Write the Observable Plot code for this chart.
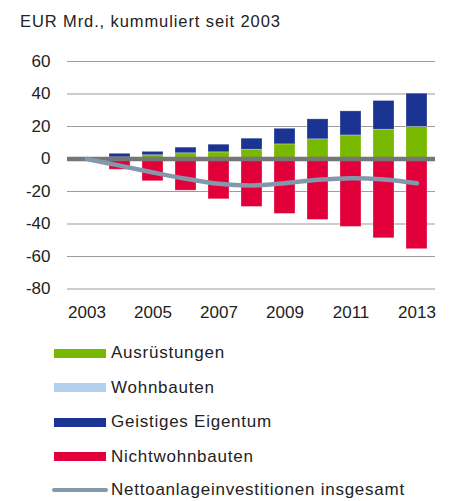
<!DOCTYPE html>
<html>
<head>
<meta charset="utf-8">
<script src="https://cdn.jsdelivr.net/npm/d3@7"></script>
<script src="https://cdn.jsdelivr.net/npm/@observablehq/plot@0.6"></script>
<style>
  html, body { margin: 0; padding: 0; background: #fff; }
  body { width: 451px; height: 501px; position: relative; overflow: hidden; font-family: "Liberation Sans", Arial, sans-serif; color: #222; }
  #title { position: absolute; left: 20px; top: 13px; font-size: 16.5px; letter-spacing: 0.9px; line-height: 1; white-space: nowrap; }
  #chart { position: absolute; left: 0; top: 30px; }
  .leg { position: absolute; left: 0; height: 34px; display: flex; align-items: center; white-space: nowrap; font-size: 17px; letter-spacing: 0.75px; }
  .sw { position: absolute; left: 54px; width: 52px; height: 9px; }
  .sw.line { left: 52px; width: 56px; height: 4px; border-radius: 2px; }
  .lt { position: absolute; left: 111px; }
</style>
</head>
<body>
<div id="title">EUR Mrd., kummuliert seit 2003</div>
<div id="chart"></div>
<div id="legend"></div>
<script>
const years = [2003, 2004, 2005, 2006, 2007, 2008, 2009, 2010, 2011, 2012, 2013];
const seriesNames = ["Ausrüstungen", "Wohnbauten", "Geistiges Eigentum", "Nichtwohnbauten"];
const lineName = "Nettoanlageinvestitionen insgesamt";
const ausruestungen = [0, 1.0, 2.3, 3.5, 4.1, 5.7, 9.0, 12.1, 14.5, 18.0, 19.7];
const wohnbauten = [0, 0, 0, 0, 0, 0, 0, 0, 0, 0, 0];
const geistigesEigentum = [0, 2.2, 2.1, 3.5, 4.7, 6.8, 9.6, 12.3, 14.8, 17.7, 20.5];
const nichtwohnbauten = [-1.0, -6.6, -13.7, -19.5, -24.8, -29.5, -33.8, -37.5, -41.8, -48.8, -55.5];
const insgesamt = [0, -4.1, -8.3, -12.2, -15.3, -16.3, -14.9, -12.8, -11.8, -12.6, -14.9];
const yTicks = [-80, -60, -40, -20, 0, 20, 40, 60];
const xTickLabels = [2003, 2005, 2007, 2009, 2011, 2013];

const colors = ["#78b800", "#b3d0ee", "#1b3494", "#e2003a"];
const lineColor = "#8498ab";

const seriesValues = [ausruestungen, wohnbauten, geistigesEigentum, nichtwohnbauten];
const barData = [];
seriesNames.forEach((s, i) => years.forEach((y, j) => barData.push({year: y, series: s, value: seriesValues[i][j]})));
const lineData = years.map((y, j) => ({year: y, value: insgesamt[j]}));

const plot = Plot.plot({
  width: 451,
  height: 300,
  marginTop: 31,
  marginBottom: 41.5,
  marginLeft: 67,
  marginRight: 16,
  style: {fontFamily: "'Liberation Sans', Arial, sans-serif", fontSize: "17px", color: "#222", background: "transparent"},
  x: {type: "band", domain: years, paddingInner: 0.37, paddingOuter: 0.185, align: 0.5, label: null},
  y: {domain: [-80, 60], label: null},
  color: {domain: seriesNames, range: colors},
  marks: [
    Plot.ruleY(yTicks, {stroke: "#9c9c9c", strokeWidth: 1.2}),
    Plot.barY(barData, {x: "year", y: "value", fill: "series", order: seriesNames, stroke: "#fff", strokeOpacity: 0.35, strokeWidth: 0.8}),
    Plot.ruleY([0], {stroke: "#767676", strokeWidth: 4.5}),
    Plot.line(lineData, {x: "year", y: "value", stroke: lineColor, strokeWidth: 4.5, curve: "catmull-rom", strokeLinecap: "round"}),
    Plot.axisY({ticks: yTicks, tickSize: 0, tickPadding: 17, tickFormat: d => String(d), fontSize: 17}),
    Plot.axisX({ticks: xTickLabels, tickSize: 0, tickPadding: 17, tickFormat: d => String(d), fontSize: 17, style: {letterSpacing: "0.75px"}})
  ]
});
document.getElementById("chart").appendChild(plot);

const legend = document.getElementById("legend");
const legendItems = seriesNames.map((s, i) => ({label: s, color: colors[i], line: false}));
legendItems.push({label: lineName, color: lineColor, line: true});
const centers = [353, 387.5, 422, 456.5, 490];
legendItems.forEach((it, i) => {
  const d = document.createElement("div");
  d.className = "leg";
  d.style.top = (centers[i] - 17) + "px";
  const sw = document.createElement("div");
  sw.className = "sw" + (it.line ? " line" : "");
  sw.style.background = it.color;
  const t = document.createElement("span");
  t.className = "lt";
  t.textContent = it.label;
  d.appendChild(sw);
  d.appendChild(t);
  legend.appendChild(d);
});
</script>
</body>
</html>
